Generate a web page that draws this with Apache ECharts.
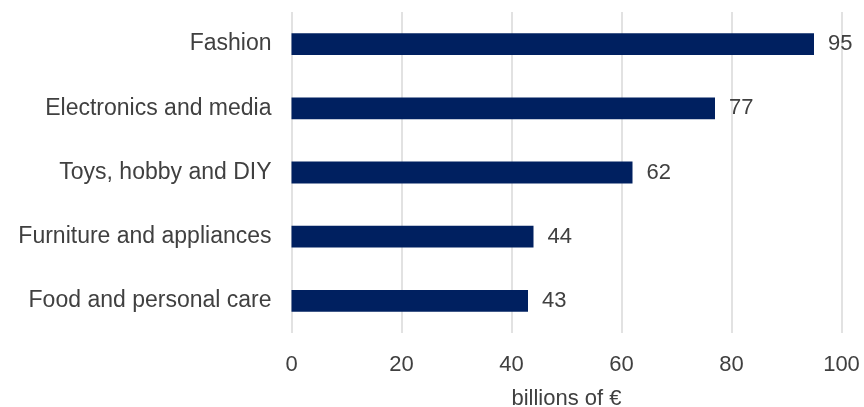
<!DOCTYPE html>
<html>
<head>
<meta charset="utf-8">
<script src="https://cdn.jsdelivr.net/npm/echarts@6/dist/echarts.min.js"></script>
<style>
  html, body { margin: 0; padding: 0; background: #ffffff; }
  #chart { width: 864px; height: 407px; }
</style>
</head>
<body>
<div id="chart"></div>
<script>
// Online sales by product segment, billions of euro
const categories = [
  'Food and personal care',
  'Furniture and appliances',
  'Toys, hobby and DIY',
  'Electronics and media',
  'Fashion'
];
const values = [43, 44, 62, 77, 95];
const axisName = 'billions of €';

const textColor = '#404040';
const fontFamily = '"Liberation Sans", Arial, sans-serif';

const chart = echarts.init(document.getElementById('chart'), null, { renderer: 'canvas' });

chart.setOption({
  animation: false,
  backgroundColor: '#ffffff',
  textStyle: { fontFamily: fontFamily },
  grid: {
    left: 291.5, right: 22.5, top: 12, bottom: 74,
    containLabel: false,
    outerBoundsMode: 'none'
  },
  xAxis: {
    type: 'value',
    min: 0,
    max: 100,
    interval: 20,
    name: axisName,
    nameLocation: 'middle',
    nameGap: 55,
    nameTextStyle: { color: textColor, fontSize: 22, fontFamily: fontFamily },
    axisLine: { show: false },
    axisTick: { show: false },
    axisLabel: { color: textColor, fontSize: 22, margin: 21, fontFamily: fontFamily },
    splitLine: { show: true, lineStyle: { color: '#d9d9d9', width: 1.5 } }
  },
  yAxis: {
    type: 'category',
    data: categories,
    axisLine: { show: false },
    axisTick: { show: false },
    axisLabel: { color: textColor, fontSize: 23, margin: 20, fontFamily: fontFamily },
    splitLine: { show: false }
  },
  series: [{
    type: 'bar',
    data: values,
    barWidth: '34%',
    itemStyle: { color: '#002060' },
    label: {
      show: true,
      position: 'right',
      distance: 14,
      color: textColor,
      fontSize: 22,
      fontFamily: fontFamily
    }
  }]
});
</script>
</body>
</html>
